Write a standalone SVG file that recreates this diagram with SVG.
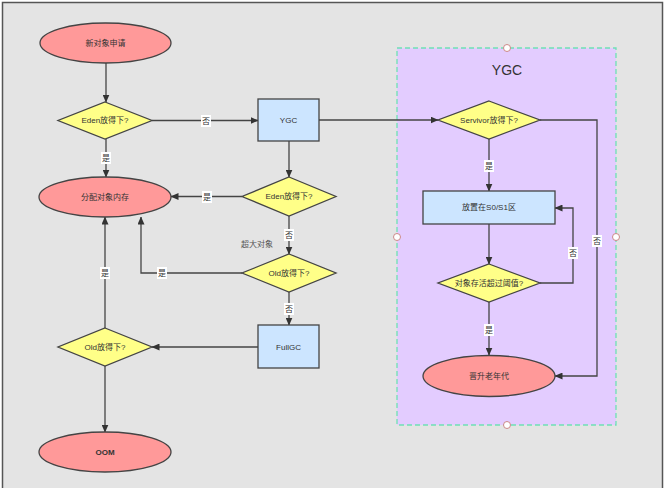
<svg xmlns="http://www.w3.org/2000/svg" width="665" height="488" viewBox="0 0 665 488">
<defs>
<marker id="arr" markerWidth="8" markerHeight="7" refX="7.5" refY="3.5" orient="auto" markerUnits="userSpaceOnUse">
<path d="M0,0 L8,3.5 L0,7 z" fill="#333"/>
</marker>
<style>
.t{font-family:"Liberation Sans","Noto Sans CJK SC",sans-serif;font-size:8px;fill:#333;text-anchor:middle;dominant-baseline:central}
.ell{fill:#ff9999;stroke:#444;stroke-width:1.3}
.dia{fill:#ffff88;stroke:#444;stroke-width:1.3}
.box{fill:#cce5ff;stroke:#444;stroke-width:1.3}
.ln{fill:none;stroke:#444;stroke-width:1.3}
.lbg{fill:#fff}
.h{fill:#fff;stroke:#c88;stroke-width:1}
</style>
</defs>
<rect x="0" y="0" width="665" height="488" fill="#fff"/>
<rect x="2.5" y="2.5" width="660" height="500" fill="#e4e4e4" stroke="#555" stroke-width="1.5"/>

<g id="ygc-container">
<rect x="397" y="48" width="219" height="377" fill="#e3ccff" stroke="#6fe0b5" stroke-width="1.3" stroke-dasharray="5,3"/>
<text class="t" x="507" y="70" style="font-size:14px">YGC</text>
<circle class="h" cx="507" cy="48" r="3.5"/>
<circle class="h" cx="397" cy="237" r="3.5"/>
<circle class="h" cx="616" cy="237" r="3.5"/>
<circle class="h" cx="507" cy="425" r="3.5"/>
</g>

<g id="connectors">
<line class="ln" x1="106" y1="63" x2="106" y2="102" marker-end="url(#arr)"/>
<line class="ln" x1="106" y1="139" x2="106" y2="177" marker-end="url(#arr)"/>
<line class="ln" x1="152" y1="120.5" x2="258" y2="120.5" marker-end="url(#arr)"/>
<line class="ln" x1="319" y1="120" x2="438" y2="120" marker-end="url(#arr)"/>
<line class="ln" x1="289" y1="141" x2="289" y2="177" marker-end="url(#arr)"/>
<line class="ln" x1="242" y1="196.5" x2="171" y2="196.5" marker-end="url(#arr)"/>
<line class="ln" x1="289" y1="216" x2="289" y2="254" marker-end="url(#arr)"/>
<polyline class="ln" points="242,273 141,273 141,217" marker-end="url(#arr)"/>
<line class="ln" x1="289" y1="292" x2="289" y2="325" marker-end="url(#arr)"/>
<line class="ln" x1="258" y1="347" x2="152" y2="347" marker-end="url(#arr)"/>
<line class="ln" x1="105" y1="328" x2="105" y2="217" marker-end="url(#arr)"/>
<line class="ln" x1="105" y1="366" x2="105" y2="432" marker-end="url(#arr)"/>
<line class="ln" x1="489" y1="139" x2="489" y2="191" marker-end="url(#arr)"/>
<polyline class="ln" points="540,120 597,120 597,376 555,376" marker-end="url(#arr)"/>
<line class="ln" x1="489" y1="224" x2="489" y2="264" marker-end="url(#arr)"/>
<polyline class="ln" points="540,283 573,283 573,208 555,208" marker-end="url(#arr)"/>
<line class="ln" x1="489" y1="302" x2="489" y2="355" marker-end="url(#arr)"/>

<rect class="lbg" x="101" y="152" width="10" height="12"/><text class="t" x="106" y="158">是</text>
<rect class="lbg" x="201" y="115" width="10" height="12"/><text class="t" x="206" y="121">否</text>
<rect class="lbg" x="202" y="191" width="10" height="12"/><text class="t" x="207" y="197">是</text>
<rect class="lbg" x="284" y="229" width="10" height="12"/><text class="t" x="289" y="235">否</text>
<text class="t" x="257" y="244" style="fill:#555">超大对象</text>
<rect class="lbg" x="157" y="267" width="10" height="12"/><text class="t" x="162" y="273">是</text>
<rect class="lbg" x="284" y="303" width="10" height="12"/><text class="t" x="289" y="309">否</text>
<rect class="lbg" x="100" y="267" width="10" height="12"/><text class="t" x="105" y="273">是</text>
<rect class="lbg" x="484" y="160" width="10" height="12"/><text class="t" x="489" y="166">是</text>
<rect class="lbg" x="592" y="235" width="10" height="12"/><text class="t" x="597" y="241">否</text>
<rect class="lbg" x="568" y="247" width="10" height="12"/><text class="t" x="573" y="253">否</text>
<rect class="lbg" x="484" y="324" width="10" height="12"/><text class="t" x="489" y="330">是</text>
</g>

<g id="new-obj"><ellipse class="ell" cx="105.5" cy="43" rx="65.5" ry="20"/><text class="t" x="105.5" y="43">新对象申请</text></g>
<g id="eden1"><polygon class="dia" points="105,102 152,120.5 105,139 58,120.5"/><text class="t" x="105" y="120.5">Eden放得下?</text></g>
<g id="alloc"><ellipse class="ell" cx="105" cy="197" rx="66" ry="20"/><text class="t" x="105" y="197">分配对象内存</text></g>
<g id="ygc"><rect class="box" x="258" y="99" width="61" height="42"/><text class="t" x="288.5" y="120">YGC</text></g>
<g id="eden2"><polygon class="dia" points="289,177 336,196.5 289,216 242,196.5"/><text class="t" x="289" y="196.5">Eden放得下?</text></g>
<g id="old1"><polygon class="dia" points="289,254 336,273 289,292 242,273"/><text class="t" x="289" y="273">Old放得下?</text></g>
<g id="fullgc"><rect class="box" x="258" y="325" width="61" height="43"/><text class="t" x="288.5" y="347">FullGC</text></g>
<g id="old2"><polygon class="dia" points="105,328 152,347 105,366 58,347"/><text class="t" x="105" y="347">Old放得下?</text></g>
<g id="oom"><ellipse class="ell" cx="105" cy="452" rx="66" ry="20"/><text class="t" x="105" y="452" style="font-weight:bold">OOM</text></g>
<g id="survivor"><polygon class="dia" points="489,101 540,120 489,139 438,120"/><text class="t" x="489" y="120">Servivor放得下?</text></g>
<g id="s0s1"><rect class="box" x="423" y="191" width="132" height="33"/><text class="t" x="489" y="207.5">放置在S0/S1区</text></g>
<g id="threshold"><polygon class="dia" points="489,264 540,283 489,302 438,283"/><text class="t" x="489" y="283">对象存活超过阈值?</text></g>
<g id="promote"><ellipse class="ell" cx="489" cy="376" rx="66" ry="20.5"/><text class="t" x="489" y="376">晋升老年代</text></g>
</svg>
